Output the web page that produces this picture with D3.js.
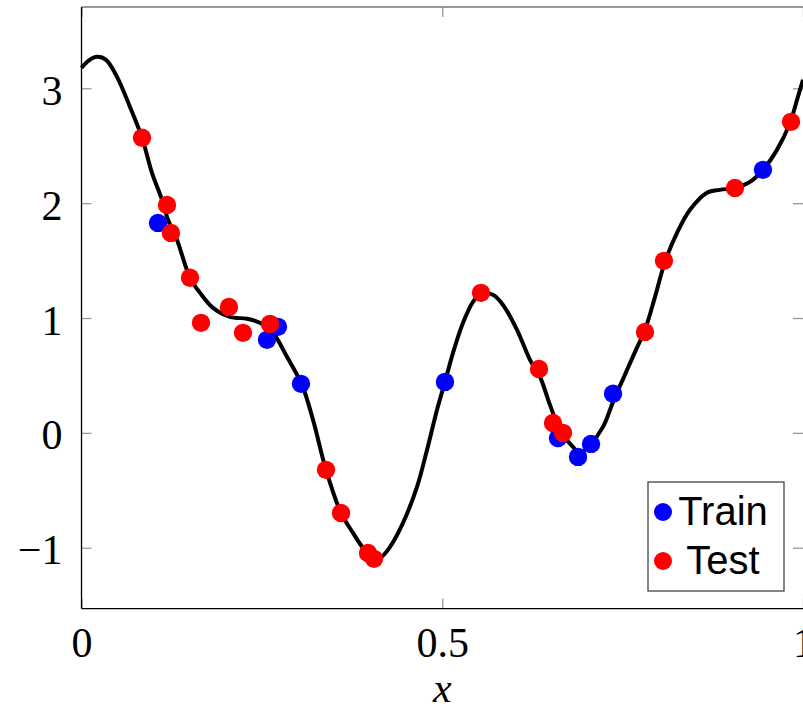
<!DOCTYPE html>
<html>
<head>
<meta charset="utf-8">
<script src="https://cdn.jsdelivr.net/npm/d3@7"></script>
<style>
  body { margin: 0; background: #fff; }
  svg { display: block; }
</style>
</head>
<body>
<div id="chart"></div>
<script>
let width = 803, height = 709

// fitted curve
let curveX = [0.000, 0.0104, 0.0215, 0.0340, 0.0492, 0.0672, 0.0839, 0.0977, 0.1116, 0.1199,
  0.1324, 0.1504, 0.1643, 0.1823, 0.2058, 0.2294, 0.2474, 0.2654, 0.2848, 0.3056,
  0.3209, 0.3389, 0.3597, 0.3763, 0.3902, 0.4040, 0.4137, 0.4276, 0.4456, 0.4650,
  0.4789, 0.4927, 0.5038, 0.5149, 0.5288, 0.5426, 0.5551, 0.5703, 0.5842, 0.6036,
  0.6216, 0.6355, 0.6493, 0.6632, 0.6812, 0.6909, 0.7048, 0.7228, 0.7367, 0.7519,
  0.7672, 0.7810, 0.7949, 0.8087, 0.8254, 0.8434, 0.8669, 0.8849, 0.9057, 0.9265,
  0.9445, 0.9639, 0.9820, 0.9917, 1.000]
let curveY = [3.178, 3.243, 3.274, 3.248, 3.100, 2.838, 2.569, 2.264, 2.029, 1.855,
  1.680, 1.350, 1.219, 1.088, 1.010, 0.993, 0.958, 0.871, 0.662, 0.418,
  0.113, -0.322, -0.697, -0.871, -1.001, -1.080, -1.088, -0.993, -0.784, -0.470,
  -0.148, 0.200, 0.444, 0.697, 0.958, 1.141, 1.219, 1.202, 1.114, 0.897,
  0.636, 0.488, 0.244, 0.026, -0.122, -0.174, -0.104, 0.052, 0.270, 0.488,
  0.705, 0.897, 1.184, 1.489, 1.741, 1.942, 2.090, 2.116, 2.133, 2.185,
  2.290, 2.464, 2.699, 2.899, 3.074]

let trainX = [0.1060, 0.2571, 0.2723, 0.3042, 0.5038, 0.6604, 0.6882, 0.7062, 0.7367, 0.9445]
let trainY = [1.828, 0.810, 0.923, 0.427, 0.444, -0.044, -0.209, -0.096, 0.340, 2.290]

let testX = [0.0839, 0.1185, 0.1240, 0.1504, 0.1656, 0.2044, 0.2238, 0.2613, 0.3389, 0.3597,
  0.3971, 0.4054, 0.5537, 0.6341, 0.6535, 0.6674, 0.7810, 0.8073, 0.9057, 0.9834]
let testY = [2.569, 1.985, 1.741, 1.350, 0.958, 1.097, 0.871, 0.949, -0.322, -0.697,
  -1.045, -1.097, 1.219, 0.557, 0.087, 0.000, 0.879, 1.498, 2.133, 2.708]

let xTicks = [0, 0.5, 1]
let yTicks = [-1, 0, 1, 2, 3]
let legendItems = [{ name: 'Train', color: '#0000ff' }, { name: 'Test', color: '#ff0000' }]

let plotL = 81.5, plotR = 803, plotT = 7, plotB = 608.6

let x = d3.scaleLinear().domain([0, 1]).range([plotL, plotR])
let y = d3.scaleLinear().domain([-1.53, 3.708]).range([plotB, plotT])

let svg = d3.select('#chart')
  .append('svg')
  .attr('width', width)
  .attr('height', height)

let zip = (xs, ys) => xs.map((v, i) => ({ x: v, y: ys[i] }))
let fmt = d => d < 0 ? '\u2212' + (-d) : String(d)

// ticks (inside, grey)
let tickStyle = (g) => {
  g.select('.domain').remove()
  g.selectAll('.tick line').attr('stroke', '#999').attr('stroke-width', 1.3)
}

svg.append('g')
  .attr('transform', `translate(0, ${plotB})`)
  .call(d3.axisBottom(x).tickValues(xTicks).tickSize(-10).tickFormat(fmt))
  .call(tickStyle)
  .selectAll('text')
  .attr('dy', 0)
  .attr('y', 48)
  .style('font-family', '"Liberation Serif", "Times New Roman", serif')
  .style('font-size', '42px')
  .attr('fill', '#000')

svg.append('g')
  .attr('transform', `translate(0, ${plotT})`)
  .call(d3.axisTop(x).tickValues(xTicks).tickSize(-10).tickFormat(''))
  .call(tickStyle)

svg.append('g')
  .attr('transform', `translate(${plotL}, 0)`)
  .call(d3.axisLeft(y).tickValues(yTicks).tickSize(-10).tickPadding(19).tickFormat(fmt))
  .call(tickStyle)
  .selectAll('text')
  .attr('dy', 16)
  .style('font-family', '"Liberation Serif", "Times New Roman", serif')
  .style('font-size', '42px')
  .attr('fill', '#000')

svg.append('g')
  .attr('transform', `translate(${plotR}, 0)`)
  .call(d3.axisRight(y).tickValues(yTicks).tickSize(-10).tickFormat(''))
  .call(tickStyle)

// frame
svg.append('line')
  .attr('x1', plotL).attr('x2', plotR).attr('y1', plotT).attr('y2', plotT)
  .attr('stroke', '#777').attr('stroke-width', 1.6)
svg.append('line')
  .attr('x1', plotL).attr('x2', plotR).attr('y1', plotB).attr('y2', plotB)
  .attr('stroke', '#000').attr('stroke-width', 1.3)
svg.append('line')
  .attr('x1', plotL).attr('x2', plotL).attr('y1', plotT).attr('y2', plotB)
  .attr('stroke', '#000').attr('stroke-width', 1.3)

// x label
svg.append('text')
  .attr('x', x(0.5))
  .attr('y', 702)
  .attr('text-anchor', 'middle')
  .style('font-family', '"Liberation Serif", "Times New Roman", serif')
  .style('font-style', 'italic')
  .style('font-size', '42px')
  .text('x')

let line = d3.line()
  .x(d => x(d.x))
  .y(d => y(d.y))
  .curve(d3.curveCatmullRom.alpha(0.5))

svg.append('path')
  .datum(zip(curveX, curveY))
  .attr('d', line)
  .attr('fill', 'none')
  .attr('stroke', '#000')
  .attr('stroke-width', 4)

svg.append('g')
  .selectAll('circle')
  .data(zip(trainX, trainY))
  .enter()
  .append('circle')
  .attr('cx', d => x(d.x))
  .attr('cy', d => y(d.y))
  .attr('r', 9.2)
  .attr('fill', '#0000ff')

svg.append('g')
  .selectAll('circle')
  .data(zip(testX, testY))
  .enter()
  .append('circle')
  .attr('cx', d => x(d.x))
  .attr('cy', d => y(d.y))
  .attr('r', 9.2)
  .attr('fill', '#ff0000')

// legend
let legend = svg.append('g')
legend.append('rect')
  .attr('x', 648).attr('y', 482)
  .attr('width', 136).attr('height', 109)
  .attr('fill', '#fff')
  .attr('stroke', '#444')
  .attr('stroke-width', 1.3)

let items = legend.selectAll('.item')
  .data(legendItems)
  .enter()
  .append('g')
  .attr('class', 'item')
  .attr('transform', (d, i) => `translate(0, ${512 + i * 49})`)

items.append('circle')
  .attr('cx', 663)
  .attr('r', 9)
  .attr('fill', d => d.color)

items.append('text')
  .attr('x', 723)
  .attr('y', 13)
  .attr('text-anchor', 'middle')
  .style('font-family', '"Liberation Sans", Arial, sans-serif')
  .style('font-size', '40px')
  .text(d => d.name)
</script>
</body>
</html>
